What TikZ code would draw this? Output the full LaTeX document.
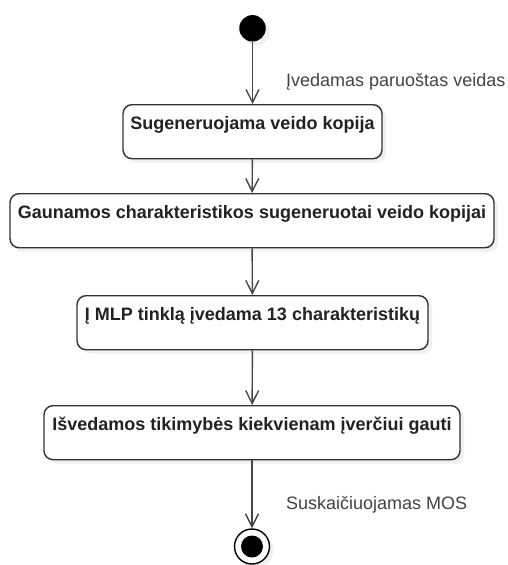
\documentclass[tikz,border=0pt]{standalone}
\usepackage{fontspec}
\setmainfont{Liberation Sans}
\usepackage{tikz}
\usetikzlibrary{arrows.meta,positioning,shadows}

\definecolor{lineGray}{HTML}{333333}
\definecolor{txtGray}{HTML}{222222}

\tikzset{
	act/.style={draw=lineGray, line width=1.4pt, rounded corners=9pt, fill=white,
		drop shadow={opacity=0.12, shadow xshift=4pt, shadow yshift=-4pt},
		inner xsep=0pt, inner ysep=0pt, text height=25pt, text depth=29pt,
		align=center, font=\fontsize{18}{22}\selectfont\bfseries, text=txtGray},
	flow/.style={draw=lineGray!90, line width=1.4pt, -{Straight Barb[length=13pt,width=13pt,line width=1.4pt]}},
	note/.style={inner sep=0pt, anchor=base west, font=\fontsize{18}{22}\selectfont, text=txtGray!85}
}

\begin{document}
\begin{tikzpicture}[x=1pt,y=-1pt]
		\useasboundingbox (0,0) rectangle (508,565);

		% start and end
		\node[circle, fill=black, minimum size=26.5pt, inner sep=0pt,
			drop shadow={opacity=0.12, shadow xshift=4pt, shadow yshift=-4pt}] (start) at (252.5,28.3) {};
		\node[circle, draw=black, line width=1.4pt, fill=white, minimum size=35pt, inner sep=0pt,
			drop shadow={opacity=0.12, shadow xshift=4pt, shadow yshift=-4pt}] (stop) at (252,546.5) {};
		\node[circle, fill=black, minimum size=22pt, inner sep=0pt] (stopdot) at (stop) {};

		% actions
		\node[act, anchor=north, minimum width=259pt] (kopija) at (252.5,104) {Sugeneruojama veido kopija};
		\node[act, anchor=north, minimum width=484pt] (charakt) at (252,193) {Gaunamos charakteristikos sugeneruotai veido kopijai};
		\node[act, anchor=north, minimum width=351pt] (mlp) at (252.5,295) {Į MLP tinklą įvedama 13 charakteristikų};
		\node[act, anchor=north, minimum width=416pt] (isvedam) at (252,405) {Išvedamos tikimybės kiekvienam įverčiui gauti};

		% transitions
		\draw[flow] (start) -- (kopija.north);
		\draw[flow] (kopija) -- (charakt);
		\draw[flow] (charakt) -- (mlp);
		\draw[flow] (mlp) -- (isvedam);
		\draw[flow] (isvedam) -- (stop);

		\node[note] (ivedamas) at (286,86) {Įvedamas paruoštas veidas};
		\node[note] (mos) at (286,509.5) {Suskaičiuojamas MOS};
	\end{tikzpicture}
\end{document}
